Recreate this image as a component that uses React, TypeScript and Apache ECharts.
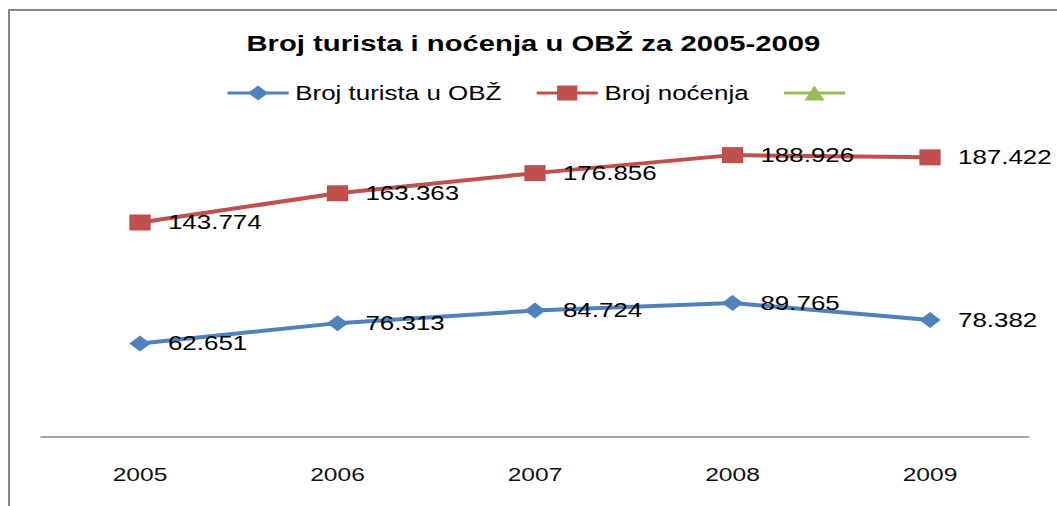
import React, { useEffect, useRef } from 'react';
import * as echarts from 'echarts';

const years: string[] = ['2005', '2006', '2007', '2008', '2009'];
const tourists: number[] = [62651, 76313, 84724, 89765, 78382];
const overnights: number[] = [143774, 163363, 176856, 188926, 187422];
const seriesNames: string[] = ['Broj turista u OBŽ', 'Broj noćenja', ' '];
const chartTitle = 'Broj turista i noćenja u OBŽ za 2005-2009';

const SX = 1.33;
const CHART_W = 787;
const CHART_H = 495;
const FONT = '"Liberation Sans", Arial, sans-serif';

const fmt = (v: number) => String(v).replace(/\B(?=(\d{3})+(?!\d))/g, '.');

export default function App() {
  const ref = useRef<HTMLDivElement>(null);
  useEffect(() => {
    if (!ref.current) return;
    const chart = echarts.init(ref.current, undefined, { renderer: 'svg' });
    const label = {
      show: true,
      position: 'right' as const,
      distance: 13,
      color: '#000',
      fontFamily: FONT,
      fontSize: 19.5,
      formatter: (p: any) => fmt(p.value),
    };
    chart.setOption({
      animation: false,
      backgroundColor: '#fff',
      title: {
        text: chartTitle,
        left: 'center',
        top: 16,
        textStyle: { fontFamily: FONT, fontSize: 22, fontWeight: 'bold', color: '#000' },
      },
      legend: {
        left: 157,
        top: 67,
        itemWidth: 46,
        itemHeight: 19,
        itemGap: 25,
        data: seriesNames,
        lineStyle: { width: 3 },
        textStyle: { fontFamily: FONT, fontSize: 19.5, color: '#000' },
      },
      grid: { left: 23.5, right: 21, top: 53, bottom: 69, containLabel: false },
      xAxis: {
        type: 'category',
        data: years,
        boundaryGap: true,
        axisLine: { show: true, lineStyle: { color: '#868686', width: 1.5 } },
        axisTick: { show: false },
        axisLabel: { margin: 28, color: '#111', fontFamily: FONT, fontSize: 18.5 },
      },
      yAxis: {
        type: 'value',
        min: 0,
        max: 250000,
        show: false,
        splitLine: { show: false },
      },
      series: [
        {
          name: seriesNames[0],
          type: 'line',
          data: tourists,
          symbol: 'diamond',
          symbolSize: 16,
          color: '#4F81BD',
          lineStyle: { width: 4, color: '#4F81BD' },
          itemStyle: { color: '#4F81BD' },
          label,
        },
        {
          name: seriesNames[1],
          type: 'line',
          data: overnights,
          symbol: 'rect',
          symbolSize: 16,
          color: '#C0504D',
          lineStyle: { width: 4, color: '#C0504D' },
          itemStyle: { color: '#C0504D' },
          label,
        },
        {
          name: seriesNames[2],
          type: 'line',
          data: [],
          symbol: 'triangle',
          symbolSize: 14,
          color: '#9BBB59',
          lineStyle: { width: 4, color: '#9BBB59' },
          itemStyle: { color: '#9BBB59' },
        },
      ],
    });
    return () => chart.dispose();
  }, []);

  return (
    <div
      style={{
        position: 'fixed',
        left: 0,
        top: 0,
        width: 1057,
        height: 506,
        overflow: 'hidden',
        background: '#fff',
      }}
    >
      <div
        style={{
          position: 'absolute',
          left: 8,
          top: 9,
          right: 0,
          bottom: 0,
          borderTop: '2px solid #878787',
          borderLeft: '2px solid #878787',
          boxSizing: 'border-box',
        }}
      />
      <div
        ref={ref}
        style={{
          position: 'absolute',
          left: 10,
          top: 11,
          width: CHART_W,
          height: CHART_H,
          transform: `scaleX(${SX})`,
          transformOrigin: '0 0',
        }}
      />
    </div>
  );
}
